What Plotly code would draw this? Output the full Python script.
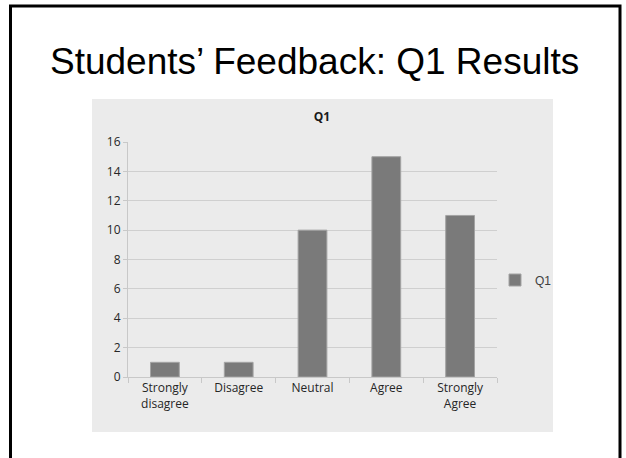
import plotly.graph_objects as go

categories = ["Strongly<br>disagree", "Disagree", "Neutral", "Agree", "Strongly<br>Agree"]
q1_counts = [1, 1, 10, 15, 11]
y_ticks = [0, 2, 4, 6, 8, 10, 12, 14, 16]

W, H = 626, 458
# plot area in pixels
L, R, T, B = 128, 497, 142, 377


def px(x):
    return (x - L) / (R - L)


def py(y):
    return (B - y) / (B - T)


fig = go.Figure()
fig.add_trace(go.Bar(
    x=categories, y=q1_counts, name="Q1",
    marker=dict(color="#7a7a7a", line=dict(color="#a3a3a3", width=1)),
))

# gray chart box and slide frame
fig.add_shape(type="rect", xref="paper", yref="paper", layer="below",
              x0=px(92), x1=px(553), y0=py(432), y1=py(99),
              fillcolor="#ebebeb", line=dict(width=0))
fig.add_shape(type="path", xref="paper", yref="paper",
              path=f"M {px(10.5)} {py(470)} L {px(10.5)} {py(6)} L {px(620)} {py(6)} L {px(620)} {py(470)}",
              line=dict(color="black", width=3))

fig.add_annotation(text="Students’ Feedback: Q1 Results", xref="paper", yref="paper",
                   x=px(314), y=py(62), showarrow=False, xanchor="center", yanchor="middle",
                   font=dict(family="Liberation Sans, Arial", size=37, color="black"))

fig.update_layout(
    width=W, height=H,
    margin=dict(l=L, r=W - R, t=T, b=H - B),
    paper_bgcolor="white",
    plot_bgcolor="rgba(0,0,0,0)",
    bargap=0.61,
    title=dict(text="<b>Q1</b>", x=322 / W, y=1 - 117 / H, xanchor="center", yanchor="middle",
               font=dict(family="Open Sans", size=12, color="#1a1a1a")),
    xaxis=dict(showline=True, linecolor="#c8c8c8", ticks="outside", tickson="boundaries",
               ticklen=5, tickcolor="#c8c8c8",
               tickfont=dict(family="Open Sans", size=12, color="#262626")),
    yaxis=dict(range=[0, 16], tickvals=y_ticks, showline=True, linecolor="#c8c8c8",
               ticks="outside", ticklen=4, tickcolor="#c8c8c8",
               gridcolor="#cfcfcf", gridwidth=1, zeroline=False,
               tickfont=dict(family="Open Sans", size=12, color="#262626")),
    showlegend=True,
    legend=dict(x=px(495), y=py(280), xanchor="left", yanchor="middle",
                bgcolor="rgba(0,0,0,0)", itemwidth=30,
                font=dict(family="Liberation Sans, Arial", size=12, color="#404040")),
)

fig.write_html("out.html", config={"displayModeBar": False},
               post_script="document.body.style.margin='0'; document.body.style.overflow='hidden';")
